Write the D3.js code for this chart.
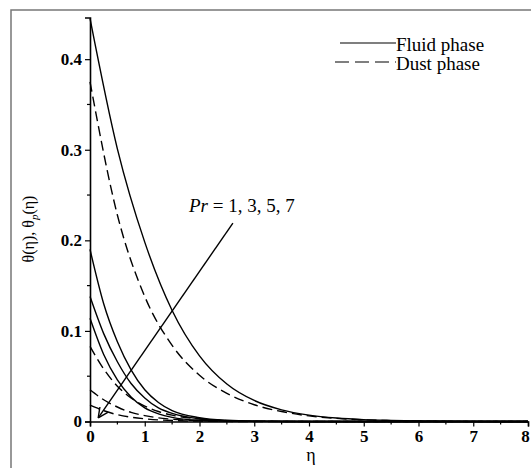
<!DOCTYPE html>
<html>
<head>
<meta charset="utf-8">
<script src="https://cdn.jsdelivr.net/npm/d3@7"></script>
<style>
  body { margin: 0; background: #fff; }
  svg { display: block; }
  text { font-family: "Liberation Serif", "DejaVu Serif", serif; }
</style>
</head>
<body>
<svg id="chart" width="531" height="468"></svg>
<script>
// ---------- data ----------
const prValues = [1, 3, 5, 7];
const etaFluid1 = [0, 0.5, 1, 1.5, 2, 2.5, 3, 3.5, 4, 4.5, 5, 5.5, 6, 7, 8];
const fluidPr1 = [0.445, 0.301, 0.198, 0.1226, 0.0725, 0.0414, 0.0232, 0.0129, 0.0071, 0.0039, 0.0021, 0.0012, 0.0006, 0.0001, 0];
const etaDust1 = [0, 0.5, 1, 1.5, 2, 2.5, 3, 3.5, 4, 4.5, 5, 5.5, 6, 7, 8];
const dustPr1 = [0.375, 0.228, 0.138, 0.084, 0.051, 0.031, 0.0185, 0.011, 0.0062, 0.0035, 0.0019, 0.001, 0.0005, 0.0001, 0];
const etaSmall = [0, 0.25, 0.5, 0.75, 1, 1.25, 1.5, 2, 2.5, 3, 4, 8];
const fluidPr3 = [0.19, 0.13, 0.088, 0.057, 0.035, 0.021, 0.012, 0.0042, 0.0013, 0.0004, 0, 0];
const fluidPr5 = [0.138, 0.097, 0.066, 0.042, 0.026, 0.015, 0.009, 0.003, 0.001, 0.0003, 0, 0];
const fluidPr7 = [0.114, 0.074, 0.046, 0.027, 0.015, 0.0085, 0.0046, 0.0013, 0.0004, 0.0001, 0, 0];
const dustPr3 = [0.083, 0.058, 0.039, 0.026, 0.017, 0.011, 0.007, 0.0028, 0.001, 0.0004, 0, 0];
const dustPr5 = [0.035, 0.024, 0.016, 0.010, 0.0065, 0.004, 0.0025, 0.001, 0.0004, 0.0002, 0, 0];
const dustPr7 = [0.018, 0.012, 0.0075, 0.0047, 0.003, 0.0018, 0.0011, 0.0004, 0.0001, 0, 0, 0];
const xTicks = [0, 1, 2, 3, 4, 5, 6, 7, 8];
const yTicks = [0, 0.1, 0.2, 0.3, 0.4];
const legendLabels = ["Fluid phase", "Dust phase"];
// annotation arrow in data units: from label to tip
const arrowFrom = [2.61, 0.219];
const arrowTo = [0.15, 0.004];

const series = [
  {eta: etaFluid1, v: fluidPr1, dust: false},
  {eta: etaDust1, v: dustPr1, dust: true},
  {eta: etaSmall, v: fluidPr3, dust: false},
  {eta: etaSmall, v: fluidPr5, dust: false},
  {eta: etaSmall, v: fluidPr7, dust: false},
  {eta: etaSmall, v: dustPr3, dust: true},
  {eta: etaSmall, v: dustPr5, dust: true},
  {eta: etaSmall, v: dustPr7, dust: true}
];

// ---------- layout ----------
const svg = d3.select("#chart");
const x = d3.scaleLinear().domain([0, 8]).range([90, 528]);
const y = d3.scaleLinear().domain([0, 0.446]).range([421.5, 17.5]);

// outer frame (left and top visible)
svg.append("path")
  .attr("d", "M11,468 L11,10 L531,10")
  .attr("fill", "none").attr("stroke", "#777").attr("stroke-width", 1.5);

// curves
const line = d3.line().x(d => x(d[0])).y(d => y(d[1])).curve(d3.curveMonotoneX);
series.forEach(s => {
  svg.append("path")
    .attr("d", line(s.eta.map((e, i) => [e, s.v[i]])))
    .attr("fill", "none")
    .attr("stroke", "#000")
    .attr("stroke-width", 1.4)
    .attr("stroke-dasharray", s.dust ? "10,5" : null);
});

// axes
const xAxis = d3.axisBottom(x).tickValues(xTicks).tickFormat(d3.format("d")).tickSize(5).tickPadding(3);
const gx = svg.append("g").attr("transform", `translate(0,${y(0)})`).call(xAxis);
const yAxis = d3.axisLeft(y).tickValues(yTicks).tickFormat(d => d === 0 ? "0" : d3.format(".1f")(d)).tickSize(5).tickPadding(3);
const gy = svg.append("g").attr("transform", `translate(${x(0)},0)`).call(yAxis);
[gx, gy].forEach(g => {
  g.select(".domain").attr("stroke", "#000").attr("stroke-width", 1.6);
  g.selectAll(".tick line").attr("stroke", "#000").attr("stroke-width", 1.2);
  g.selectAll(".tick text").attr("fill", "#000")
    .style("font-family", "'Liberation Serif', serif")
    .style("font-size", "17px").style("font-weight", "bold");
});
// keep the last x label inside the window
gx.selectAll(".tick text").filter(d => d === 8).attr("dx", -3);
// minor ticks
const xMinor = d3.range(0.5, 8, 1);
svg.append("g").selectAll("line").data(xMinor).join("line")
  .attr("x1", d => x(d)).attr("x2", d => x(d))
  .attr("y1", y(0)).attr("y2", y(0) + 3)
  .attr("stroke", "#000").attr("stroke-width", 1.2);
const yMinor = [0.05, 0.15, 0.25, 0.35];
svg.append("g").selectAll("line").data(yMinor).join("line")
  .attr("x1", x(0) - 3).attr("x2", x(0))
  .attr("y1", d => y(d)).attr("y2", d => y(d))
  .attr("stroke", "#000").attr("stroke-width", 1.2);

// axis titles
svg.append("text").attr("x", 311).attr("y", 461).attr("text-anchor", "middle")
  .style("font-size", "18px").text("η");
const yl = svg.append("text")
  .attr("transform", "translate(34,229) rotate(-90)")
  .attr("text-anchor", "middle").style("font-size", "16px");
yl.append("tspan").text("θ(η), θ");
yl.append("tspan").attr("dy", 4).style("font-size", "11px").style("font-style", "italic").text("p");
yl.append("tspan").attr("dy", -4).text("(η)");

// legend
const legY = [43, 62];
legendLabels.forEach((lab, i) => {
  svg.append("line")
    .attr("x1", i === 0 ? 340 : 335).attr("x2", 396)
    .attr("y1", legY[i]).attr("y2", legY[i])
    .attr("stroke", "#000").attr("stroke-width", 1.2)
    .attr("stroke-dasharray", i === 1 ? "14,6" : null);
  svg.append("text").attr("x", 396).attr("y", legY[i] + 8)
    .style("font-size", "19px").text(lab);
});

// annotation
const ann = svg.append("text").attr("x", 189).attr("y", 212).style("font-size", "19px");
ann.append("tspan").style("font-style", "italic").text("Pr");
ann.append("tspan").text(" = " + prValues.join(", "));

const ax1 = x(arrowFrom[0]), ay1 = y(arrowFrom[1]);
const ax2 = x(arrowTo[0]), ay2 = y(arrowTo[1]);
svg.append("line").attr("x1", ax1).attr("y1", ay1).attr("x2", ax2).attr("y2", ay2)
  .attr("stroke", "#000").attr("stroke-width", 1.4);
// open arrowhead
const ang = Math.atan2(ay2 - ay1, ax2 - ax1);
const hl = 11, ha = 0.45;
[ang + Math.PI - ha, ang + Math.PI + ha].forEach(a => {
  svg.append("line").attr("x1", ax2).attr("y1", ay2)
    .attr("x2", ax2 + hl * Math.cos(a)).attr("y2", ay2 + hl * Math.sin(a))
    .attr("stroke", "#000").attr("stroke-width", 1.4);
});
</script>
</body>
</html>
